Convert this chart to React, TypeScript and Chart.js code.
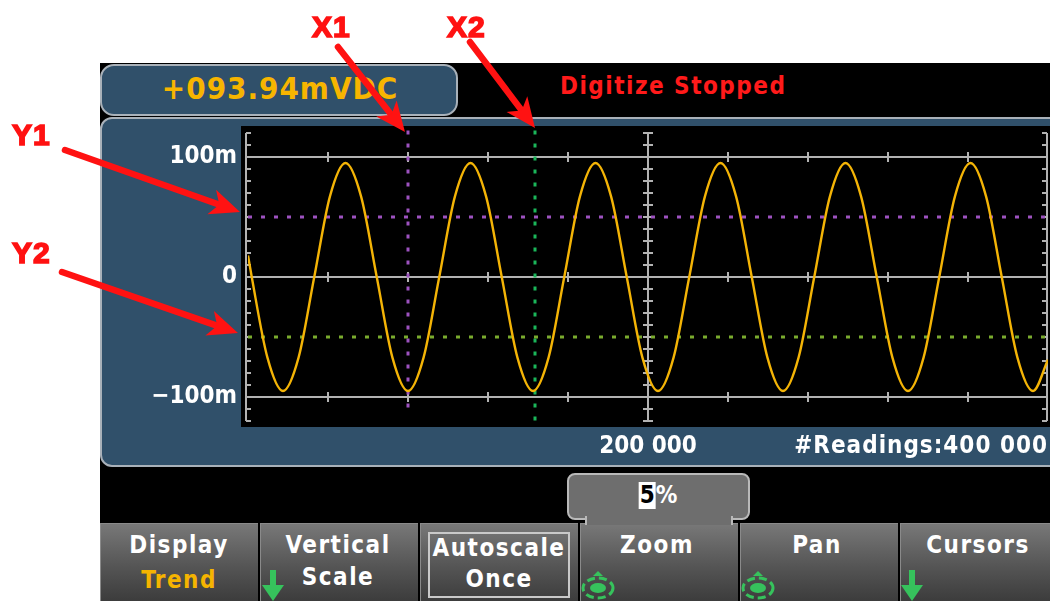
import React, { useEffect, useRef } from "react";
import { Chart, registerables } from "chart.js";

Chart.register(...registerables);

// ---------------- data ----------------
const readingIndex = [
  0, 1875, 9688, 17500, 25313, 33125, 40938, 48750, 56563, 64375,
  72188, 80000, 87813, 95625, 103438, 111250, 119063, 126875, 134688, 142500,
  150313, 158125, 165938, 173750, 181563, 189375, 197188, 205000, 212813, 220625,
  228438, 236250, 244063, 251875, 259688, 267500, 275313, 283125, 290938, 298750,
  306563, 314375, 322188, 330000, 337813, 345625, 353438, 361250, 369063, 376875,
  384688, 392500, 400000,
];
const millivolts = [
  18, 0, -67, -95, -67, 0, 67, 95, 67, 0,
  -67, -95, -67, 0, 67, 95, 67, 0, -67, -95,
  -67, 0, 67, 95, 67, 0, -67, -95, -67, 0,
  67, 95, 67, 0, -67, -95, -67, 0, 67, 95,
  67, 0, -67, -95, -67, 0, 67, 95, 67, 0,
  -67, -95, -69,
];
const yTickValues = [-100, 0, 100];
const yMinorTicks = [-120, -110, -100, -90, -80, -70, -60, -50, -40, -30, -20, -10, 0, 10, 20, 30, 40, 50, 60, 70, 80, 90, 100, 110, 120];
const xTickValues = [200000];
const xMinorTicks = [40000, 80000, 120000, 160000, 240000, 280000, 320000, 360000];
const xMin = 0;
const xMax = 400000;
const yMin = -125;
const yMax = 125;
const cursorX1 = 80000;
const cursorX2 = 143500;
const cursorY1 = 50;
const cursorY2 = -50;
const cursorX1Span = [122, -115];
const cursorX2Span = [122, -120];

const readoutText = "+093.94mVDC";
const statusText = "Digitize Stopped";
const readingsLabel = "#Readings:400 000";
const zoomValue = "5";

// ---------------- style ----------------
const FONT = "'DejaVu Sans Condensed', 'DejaVu Sans', sans-serif";
const GRID = "#b2b2b2";
const WAVE = "#f4b406";
const PURPLE = "#9d52c0";
const GREEN_X = "#1bb65a";
const GREEN_Y = "#7aab2e";
const PANEL = "#30506a";
const EDGE = "#a9b1b9";
const RED = "#ff1212";
const SOFT_GREEN = "#36c25c";

const fmtThousands = (v: number) => String(v).replace(/\B(?=(\d{3})+(?!\d))/g, " ");

const scopeDecor = {
  id: "scopeDecor",
  beforeDraw(chart: any) {
    const { ctx, chartArea: a } = chart;
    ctx.save();
    ctx.fillStyle = "#000";
    ctx.fillRect(a.left - 7, a.top - 1, chart.width - (a.left - 7), a.bottom - a.top + 1);
    ctx.restore();
  },
  beforeDatasetsDraw(chart: any) {
    const { ctx, chartArea: a } = chart;
    const x = chart.scales.x;
    const y = chart.scales.y;
    ctx.save();
    ctx.strokeStyle = GRID;
    ctx.lineWidth = 2;
    const seg = (x1: number, y1: number, x2: number, y2: number) => {
      ctx.beginPath();
      ctx.moveTo(x1, y1);
      ctx.lineTo(x2, y2);
      ctx.stroke();
    };
    const top = y.getPixelForValue(yMinorTicks[yMinorTicks.length - 1]);
    const bot = y.getPixelForValue(yMinorTicks[0]);
    const axes = [
      { px: a.left - 2, dir: 1 },
      { px: a.right - 1, dir: -1 },
      { px: Math.round(x.getPixelForValue(xTickValues[0])), dir: 0 },
    ];
    for (const ax of axes) {
      seg(ax.px, top, ax.px, bot);
      for (const v of yMinorTicks) {
        const py = Math.round(y.getPixelForValue(v));
        if (ax.dir === 0) seg(ax.px - 5, py, ax.px + 5, py);
        else seg(ax.px, py, ax.px + 5 * ax.dir, py);
      }
    }
    for (const v of yTickValues) {
      const py = y.getPixelForValue(v);
      for (const xv of xMinorTicks) {
        const px = Math.round(x.getPixelForValue(xv));
        seg(px, py - 5, px, py + 5);
      }
    }
    ctx.restore();
  },
};

function TrendChart() {
  const ref = useRef<HTMLCanvasElement>(null);
  useEffect(() => {
    const canvas = ref.current!;
    const chart = new Chart(canvas, {
      type: "line",
      data: {
        datasets: [
          {
            label: "Reading",
            data: readingIndex.map((r, i) => ({ x: r, y: millivolts[i] })),
            borderColor: WAVE,
            borderWidth: 2.4,
            pointRadius: 0,
            cubicInterpolationMode: "monotone",
          },
          {
            label: "Y1",
            data: [{ x: xMin, y: cursorY1 }, { x: xMax, y: cursorY1 }],
            borderColor: PURPLE,
            borderWidth: 3,
            borderDash: [4, 9],
            pointRadius: 0,
          },
          {
            label: "Y2",
            data: [{ x: xMin, y: cursorY2 }, { x: xMax, y: cursorY2 }],
            borderColor: GREEN_Y,
            borderWidth: 3,
            borderDash: [4, 9],
            pointRadius: 0,
          },
          {
            label: "X1",
            data: [{ x: cursorX1, y: cursorX1Span[0] }, { x: cursorX1, y: cursorX1Span[1] }],
            borderColor: PURPLE,
            borderWidth: 3,
            borderDash: [4, 9],
            pointRadius: 0,
          },
          {
            label: "X2",
            data: [{ x: cursorX2, y: cursorX2Span[0] }, { x: cursorX2, y: cursorX2Span[1] }],
            borderColor: GREEN_X,
            borderWidth: 3,
            borderDash: [4, 9],
            pointRadius: 0,
          },
        ],
      },
      options: {
        animation: false,
        responsive: false,
        maintainAspectRatio: false,
        layout: { padding: { left: 0, right: 2, top: 8, bottom: 0 } },
        plugins: { legend: { display: false }, tooltip: { enabled: false } },
        scales: {
          x: {
            type: "linear",
            min: xMin,
            max: xMax,
            afterBuildTicks: (s: any) => {
              s.ticks = xTickValues.map((value) => ({ value }));
            },
            afterFit: (s: any) => {
              s.height = 39;
              s.paddingLeft = 0;
              s.paddingRight = 0;
            },
            grid: { display: false, drawTicks: false },
            border: { display: false },
            ticks: {
              autoSkip: false,
              maxRotation: 0,
              padding: 5,
              color: "#ffffff",
              font: { family: FONT, weight: "bold", size: 24 },
              callback: (v: any) => fmtThousands(Number(v)),
            },
          },
          y: {
            min: yMin,
            max: yMax,
            afterBuildTicks: (s: any) => {
              s.ticks = yTickValues.map((value) => ({ value }));
            },
            afterFit: (s: any) => {
              s.width = 148;
              s.paddingTop = 0;
              s.paddingBottom = 0;
            },
            grid: { color: GRID, lineWidth: 2, drawTicks: false },
            border: { display: false },
            ticks: {
              padding: 11,
              color: "#ffffff",
              font: { family: FONT, weight: "bold", size: 24 },
              callback: (v: any) => {
                const n = Number(v);
                if (n === 0) return "0";
                return (n < 0 ? "\u2212" : "") + Math.abs(n) + "m";
              },
            },
          },
        },
      },
      plugins: [scopeDecor],
    } as any);
    return () => chart.destroy();
  }, []);
  return (
    <canvas
      ref={ref}
      width={950}
      height={347}
      style={{ position: "absolute", left: 100, top: 119, width: 950, height: 347 }}
    />
  );
}

type TxtProps = {
  x: number;
  y: number;
  color?: string;
  size?: number;
  align?: "center" | "left" | "right";
  spacing?: number;
  children: React.ReactNode;
};

function Txt({ x, y, color = "#fff", size = 24, align = "center", spacing = 1, children }: TxtProps) {
  const h = Math.round(size * 1.4);
  const style: React.CSSProperties = {
    position: "absolute",
    top: y - h / 2,
    height: h,
    lineHeight: h + "px",
    fontFamily: FONT,
    fontWeight: "bold",
    fontSize: size,
    color,
    whiteSpace: "nowrap",
    letterSpacing: spacing,
  };
  if (align === "center") {
    style.left = x;
    style.transform = "translateX(-50%)";
  } else if (align === "right") {
    style.right = 1050 - x;
  } else {
    style.left = x;
  }
  return <div style={style}>{children}</div>;
}

const softkeys = [
  { left: 100, width: 158, cx: 179, lines: [{ t: "Display", c: "#ffffff", y: 545 }, { t: "Trend", c: "#f5b400", y: 580 }], icon: "" },
  { left: 260, width: 158, cx: 338, lines: [{ t: "Vertical", c: "#ffffff", y: 545 }, { t: "Scale", c: "#ffffff", y: 577 }], icon: "down" },
  { left: 420, width: 158, cx: 499, lines: [{ t: "Autoscale", c: "#ffffff", y: 548 }, { t: "Once", c: "#ffffff", y: 579 }], icon: "box" },
  { left: 580, width: 158, cx: 657, lines: [{ t: "Zoom", c: "#ffffff", y: 545 }], icon: "nav" },
  { left: 740, width: 158, cx: 817, lines: [{ t: "Pan", c: "#ffffff", y: 545 }], icon: "nav" },
  { left: 900, width: 152, cx: 978, lines: [{ t: "Cursors", c: "#ffffff", y: 545 }], icon: "down" },
];

const annotations = [
  { label: "X1", lx: 312, ly: 12, sx: 338, sy: 47, tx: 405, ty: 132 },
  { label: "X2", lx: 447, ly: 12, sx: 470, sy: 42, tx: 535, ty: 128 },
  { label: "Y1", lx: 12, ly: 120, sx: 65, sy: 150, tx: 240, ty: 212 },
  { label: "Y2", lx: 12, ly: 238, sx: 62, sy: 272, tx: 238, ty: 333 },
];

function Arrow({ sx, sy, tx, ty }: { sx: number; sy: number; tx: number; ty: number }) {
  const dx = tx - sx;
  const dy = ty - sy;
  const len = Math.hypot(dx, dy);
  const ux = dx / len;
  const uy = dy / len;
  const nx = -uy;
  const ny = ux;
  const head = 30;
  const half = 13;
  const bx = tx - ux * head;
  const by = ty - uy * head;
  return (
    <g>
      <line x1={sx} y1={sy} x2={bx + ux * 6} y2={by + uy * 6} stroke={RED} strokeWidth={6.5} strokeLinecap="round" />
      <polygon
        points={`${bx + nx * half},${by + ny * half} ${tx},${ty} ${bx - nx * half},${by - ny * half} ${bx + ux * 8},${by + uy * 8}`}
        fill={RED}
      />
    </g>
  );
}

function DownIcon({ cx, top }: { cx: number; top: number }) {
  return (
    <polygon
      points={`${cx - 3},${top} ${cx + 3},${top} ${cx + 3},${top + 15} ${cx + 11},${top + 15} ${cx},${top + 31} ${cx - 11},${top + 15} ${cx - 3},${top + 15}`}
      fill={SOFT_GREEN}
    />
  );
}

function NavIcon({ cx, cy }: { cx: number; cy: number }) {
  return (
    <g>
      <ellipse cx={cx} cy={cy} rx={15} ry={10} fill="none" stroke={SOFT_GREEN} strokeWidth={3} strokeDasharray="8 4" />
      <ellipse cx={cx} cy={cy} rx={8} ry={5} fill={SOFT_GREEN} />
      <polygon points={`${cx - 5},${cy - 12} ${cx},${cy - 17} ${cx + 5},${cy - 12}`} fill={SOFT_GREEN} />
    </g>
  );
}

export default function App() {
  return (
    <div
      style={{
        position: "absolute",
        left: 0,
        top: 0,
        width: 1050,
        height: 601,
        background: "#ffffff",
        overflow: "hidden",
      }}
    >
      {/* instrument frame */}
      <div style={{ position: "absolute", left: 100, top: 63, width: 950, height: 538, background: "#000" }} />

      {/* readout */}
      <div
        style={{
          position: "absolute",
          left: 100,
          top: 64,
          width: 358,
          height: 52,
          boxSizing: "border-box",
          background: PANEL,
          border: `2px solid ${EDGE}`,
          borderRadius: 14,
        }}
      />
      <Txt x={280} y={88} size={31} color="#f7b500" spacing={1}>
        {readoutText}
      </Txt>
      <Txt x={560} y={86} size={24} color="#ff1a1a" align="left" spacing={1.5}>
        {statusText}
      </Txt>

      {/* main trend panel */}
      <div
        style={{
          position: "absolute",
          left: 100,
          top: 117,
          width: 962,
          height: 350,
          boxSizing: "border-box",
          background: PANEL,
          border: `2px solid ${EDGE}`,
          borderRadius: 12,
        }}
      />
      <TrendChart />
      <Txt x={1048} y={445} size={24} align="right" spacing={1}>
        {readingsLabel}
      </Txt>

      {/* softkeys */}
      {softkeys.map((k) => (
        <div
          key={k.cx}
          style={{
            position: "absolute",
            left: k.left,
            top: 523,
            width: k.width,
            height: 78,
            boxSizing: "border-box",
            background: "linear-gradient(#787878, #555555 55%, #3c3c3c)",
            borderLeft: "1px solid #8a8a8a",
            borderTop: "1px solid #8a8a8a",
          }}
        />
      ))}
      <div
        style={{
          position: "absolute",
          left: 428,
          top: 532,
          width: 142,
          height: 66,
          boxSizing: "border-box",
          border: "2px solid #c9c9c9",
        }}
      />
      {softkeys.map((k) =>
        k.lines.map((l) => (
          <Txt key={k.cx + l.t} x={k.cx} y={l.y} size={24} color={l.c} spacing={1.5}>
            {l.t}
          </Txt>
        ))
      )}

      {/* zoom value popup */}
      <div
        style={{
          position: "absolute",
          left: 567,
          top: 473,
          width: 183,
          height: 47,
          boxSizing: "border-box",
          background: "#6e6e6e",
          border: "2px solid #b9b9b9",
          borderRadius: 8,
        }}
      />
      <div
        style={{
          position: "absolute",
          left: 585,
          top: 516,
          width: 148,
          height: 9,
          boxSizing: "border-box",
          background: "#6e6e6e",
          borderLeft: "2px solid #b9b9b9",
          borderRight: "2px solid #b9b9b9",
        }}
      />
      <Txt x={658} y={495} size={24} spacing={0}>
        <span style={{ background: "#ffffff", color: "#000", display: "inline-block", lineHeight: "27px", padding: "0 1px" }}>
          {zoomValue}
        </span>
        %
      </Txt>

      {/* icons and annotation arrows */}
      <svg
        width={1050}
        height={601}
        style={{ position: "absolute", left: 0, top: 0, pointerEvents: "none" }}
      >
        <DownIcon cx={273} top={570} />
        <DownIcon cx={912} top={570} />
        <NavIcon cx={598} cy={588} />
        <NavIcon cx={758} cy={588} />
        {annotations.map((a) => (
          <Arrow key={a.label} sx={a.sx} sy={a.sy} tx={a.tx} ty={a.ty} />
        ))}
      </svg>
      {annotations.map((a) => (
        <div
          key={a.label}
          style={{
            position: "absolute",
            left: a.lx,
            top: a.ly,
            fontFamily: "'Liberation Sans', Arial, sans-serif",
            fontWeight: "bold",
            fontSize: 30,
            lineHeight: "30px",
            letterSpacing: 1,
            color: RED,
            WebkitTextStroke: `1.6px ${RED}`,
            whiteSpace: "nowrap",
          }}
        >
          {a.label}
        </div>
      ))}
    </div>
  );
}
